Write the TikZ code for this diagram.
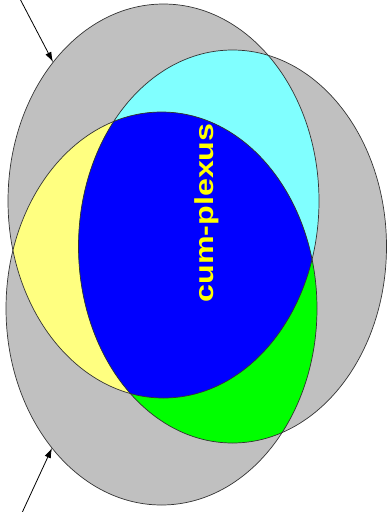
\documentclass[tikz,border=0pt]{standalone}
\usepackage{fontspec}
\setmainfont{Liberation Sans}
\usetikzlibrary{arrows.meta}
\definecolor{vgray}{RGB}{192,192,192}
\definecolor{vcyan}{RGB}{128,255,255}
\definecolor{vyellow}{RGB}{255,255,128}
\definecolor{vgreen}{RGB}{0,255,0}
\definecolor{vblue}{RGB}{0,0,255}
\definecolor{vtext}{RGB}{255,255,0}
\tikzset{
  outline/.style={draw=black!80, line width=0.7pt},
  pointer/.style={draw=black, line width=0.8pt, -{Latex[length=10pt,width=6.5pt]}},
  label/.style={text=vtext, font=\bfseries\fontsize{26}{26}\selectfont, inner sep=0pt, rotate=90}
}
\begin{document}
\begin{tikzpicture}[x=1pt,y=-1pt]
\useasboundingbox (0,0) rectangle (387,512);
\def\T{(163.5,201) ellipse [x radius=155.5, y radius=197]}
\def\R{(232.5,246.5) ellipse [x radius=154, y radius=196.5]}
\def\B{(161.5,308.5) ellipse [x radius=155.5, y radius=196.5]}
% single regions
\fill[vgray] \T; \fill[vgray] \R; \fill[vgray] \B;
% pairwise
\begin{scope}\clip \T; \fill[vcyan] \R;\end{scope}
\begin{scope}\clip \T; \fill[vyellow] \B;\end{scope}
\begin{scope}\clip \R; \fill[vgreen] \B;\end{scope}
% triple
\begin{scope}\clip \T; \clip \R; \fill[vblue] \B;\end{scope}
% outlines
\draw[outline] \T; \draw[outline] \R; \draw[outline] \B;
% label
\node[label] (lbl) at (207,213) {\scalebox{1.24}[1]{cum-plexus}};
% arrows
\coordinate (a1s) at (19,-3);
\coordinate (a1e) at (53,62);
\coordinate (a2s) at (21,515);
\coordinate (a2e) at (52,448);
\draw[pointer] (a1s) -- (a1e);
\draw[pointer] (a2s) -- (a2e);
\end{tikzpicture}
\end{document}
